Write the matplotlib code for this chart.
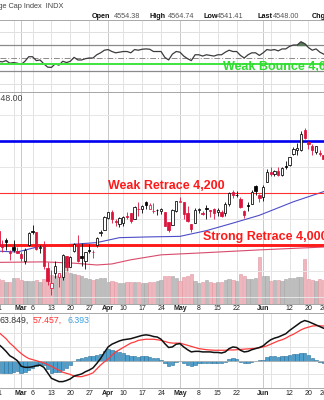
import numpy as np
import matplotlib
matplotlib.use('Agg')
import matplotlib.pyplot as plt
from matplotlib.transforms import blended_transform_factory

plt.rcParams['font.family'] = ['Liberation Sans', 'DejaVu Sans']

# ---- daily SPX, Feb 21 .. Jun 26 ----
opens = [4052, 4001, 4018, 3973, 3992, 3977, 3964, 3938, 3998, 4055,
         4048, 3987, 3998, 3912, 3835, 3894, 3876, 3878, 3958, 3917,
         3975, 4002, 3959, 3939, 3982, 3974, 3999, 4046, 4056, 4102,
         4128, 4094, 4082, 4085, 4111, 4122, 4100, 4140, 4137, 4164,
         4140, 4131, 4133, 4132, 4126, 4088, 4075, 4130, 4167, 4164,
         4122, 4082, 4085, 4136, 4124, 4143, 4133, 4139, 4127, 4128,
         4123, 4158, 4204, 4191, 4176, 4132, 4155, 4157, 4227, 4191,
         4184, 4242, 4282, 4271, 4286, 4268, 4305, 4308, 4350, 4366,
         4366, 4440, 4397, 4380, 4356, 4355, 4345]
highs = [4052, 4018, 4028, 3979, 4018, 3994, 3971, 3990, 4048, 4078,
         4050, 4000, 4017, 3934, 3905, 3937, 3894, 3964, 3959, 3956,
         4009, 4039, 4007, 3972, 4003, 3979, 4031, 4057, 4110, 4127,
         4134, 4100, 4108, 4110, 4125, 4124, 4150, 4164, 4152, 4169,
         4163, 4160, 4139, 4143, 4127, 4090, 4139, 4170, 4185, 4165,
         4149, 4082, 4143, 4143, 4131, 4154, 4133, 4143, 4141, 4136,
         4165, 4202, 4213, 4209, 4186, 4133, 4166, 4213, 4231, 4196,
         4232, 4291, 4299, 4289, 4300, 4299, 4322, 4340, 4376, 4391,
         4439, 4448, 4400, 4387, 4382, 4366, 4362]
lows = [3996, 3973, 3979, 3943, 3974, 3969, 3939, 3928, 3995, 4044,
        3980, 3970, 3908, 3846, 3808, 3874, 3838, 3864, 3901, 3916,
        3971, 3936, 3920, 3909, 3970, 3951, 3993, 4033, 4056, 4098,
        4086, 4071, 4069, 4072, 4100, 4086, 4100, 4113, 4124, 4140,
        4140, 4124, 4114, 4118, 4072, 4050, 4075, 4128, 4164, 4099,
        4087, 4049, 4085, 4124, 4116, 4099, 4109, 4099, 4110, 4109,
        4113, 4150, 4180, 4186, 4143, 4103, 4129, 4157, 4192, 4166,
        4170, 4242, 4266, 4264, 4264, 4266, 4291, 4304, 4345, 4347,
        4362, 4407, 4367, 4345, 4351, 4341, 4329]
closes = [3997, 3991, 4012, 3970, 3982, 3970, 3951, 3981, 4045, 4048,
          3986, 3992, 3918, 3861, 3855, 3919, 3892, 3960, 3917, 3952,
          4003, 3937, 3949, 3971, 3978, 3971, 4028, 4051, 4109, 4125,
          4101, 4090, 4105, 4109, 4108.9, 4092, 4146, 4138, 4151, 4155,
          4154.5, 4130, 4134, 4137, 4072, 4056, 4135, 4169, 4168, 4120,
          4091, 4061, 4136, 4138, 4119, 4138, 4131, 4124, 4136, 4110,
          4159, 4198, 4192, 4192.6, 4146, 4115, 4151, 4205.4, 4205.5, 4180,
          4221, 4282, 4274, 4284, 4268, 4294, 4299, 4339, 4369, 4373,
          4426, 4410, 4389, 4366, 4382, 4348, 4329]
prev_close = 4079

volume_b = [4.4, 4.1, 3.9, 3.8, 4.6, 4.6, 4.2, 4.0, 4.0, 4.0,
            4.1, 3.9, 4.3, 4.6, 5.0, 4.9, 5.0, 4.7, 8.2, 5.4,
            5.2, 5.1, 4.8, 4.5, 4.3, 4.2, 4.4, 4.5, 4.6, 3.9,
            4.0, 3.8, 3.7, 3.6, 3.8, 3.8, 3.9, 3.9, 3.6, 3.7,
            3.8, 3.9, 4.0, 4.1, 4.9, 4.9, 4.8, 4.6, 4.0, 4.7,
            4.9, 5.3, 4.0, 3.7, 3.8, 4.1, 3.8, 3.7, 3.8, 3.9,
            4.2, 4.3, 4.2, 4.0, 5.2, 4.9, 4.4, 4.3, 4.5, 8.2,
            4.9, 4.8, 4.0, 4.2, 4.1, 4.0, 4.3, 4.5, 4.6, 4.7,
            4.7, 7.8, 4.3, 4.2, 4.0, 4.3, 4.1]

rsi = [45, 44, 46, 42, 43, 42, 40, 45, 52, 52,
       46, 47, 41, 36, 35.5, 41, 39, 45, 43, 45,
       51, 47, 47, 49, 50, 50, 55, 58, 62, 63,
       60, 58, 59, 60, 60, 58, 63, 62, 63.5, 64,
       63.5, 60, 60, 60, 51, 47, 56, 60, 59, 53,
       49, 46, 55, 55, 53, 55, 54, 53, 55, 55,
       59, 62, 60, 60, 54, 50, 55, 58, 58, 54,
       58, 63, 62, 63, 61, 64, 64, 68, 70, 70,
       75, 72, 66, 62, 64, 59, 56]

macd = [30, 24, 17, 9, 5, 0, -10, -12, -12, -11,
        -9, -8, -12, -22, -32, -35, -38, -38, -36, -33,
        -28, -26, -24, -20, -17, -13, -5, 4, 15, 25,
        30, 33, 36, 38, 39, 40, 42, 44, 46, 47,
        46, 44, 43, 39, 31, 24, 25, 30, 31, 25,
        20, 16, 17, 17, 16, 16, 16, 15, 15, 14,
        16, 22, 25, 24, 19, 16, 17, 20, 22, 24,
        27, 33, 38, 41, 43, 46, 49, 55, 60, 65,
        70, 73, 71, 68, 65, 62, 59]
signal = [52, 46, 40, 32, 26, 19, 13, 8, 4, 2,
          0, -2, -4, -7, -10, -14, -17, -21, -23, -25,
          -28, -29, -29, -27, -25, -22, -15, -8, -2, 3,
          10, 16, 20, 24, 28, 32, 34, 37, 38, 39,
          39, 39, 38, 37, 35, 33, 32, 32, 32, 30,
          28, 26, 24, 22, 21, 20, 19.5, 19, 19, 19,
          19, 19.5, 19.5, 20, 20.5, 21, 21.5, 22, 22.5, 23.5,
          25, 27, 30, 33, 36, 38, 41, 45, 48, 52,
          56, 59, 61, 63, 63.5, 63.5, 63]

# moving averages, read at a handful of sessions
ma50_day = [0, 5, 11, 18, 26, 32, 40, 48, 55, 62, 69, 78, 86]
ma50 = [3976, 3973, 3995, 4001, 4009, 4028, 4031, 4033, 4055, 4084, 4114, 4166, 4205]
ma200_day = [0, 12, 20, 26, 30, 35, 43, 53, 69, 86]
ma200 = [3933, 3935, 3930, 3923, 3927, 3943, 3962, 3969, 3981, 3992]

tick_day = [0, 6, 9, 14, 19, 24, 29, 33, 38, 43, 48, 53, 58, 63, 70, 77, 82, 86]
tick_text = ['21', 'Mar', '6', '13', '20', '27', 'Apr', '10', '17', '24',
             'May', '8', '15', '22', 'Jun', '12', '20', '26']
grid_day = [4, 72]

RED = '#dc143c'
W, H = 324, 400

fig = plt.figure(figsize=(W / 100, H / 100), dpi=100)


def rect(top, bottom):
    return [0, 1 - bottom / H, 1, (bottom - top) / H]


ax_rsi = fig.add_axes(rect(20, 92))
ax_px = fig.add_axes(rect(92, 304))
ax_md = fig.add_axes(rect(313, 388))
ax_vol = ax_px.twinx()
ax_px.set_zorder(ax_vol.get_zorder() + 1)
ax_px.patch.set_visible(False)

x = np.arange(len(closes))
o, hi, lo, c = (np.array(v, float) for v in (opens, highs, lows, closes))
prev = np.r_[prev_close, c[:-1]]
down = c < prev

for a in (ax_rsi, ax_px, ax_md, ax_vol):
    a.set_xlim(0.4, 86.1)
    a.set_xticks([])
    a.set_yticks([])
    for s in ('left', 'right'):
        a.spines[s].set_visible(False)
    for s in ('top', 'bottom'):
        a.spines[s].set_color('#a8a8a8')
        a.spines[s].set_linewidth(0.7)

# weekly / monthly vertical grid
for a in (ax_rsi, ax_vol, ax_md):
    for d, t in zip(tick_day, tick_text):
        month = t.isalpha()
        a.axvline(d, color='#c9c9c9' if month else '#e3e3e3', lw=0.7, zorder=0)
    for d in grid_day:
        a.axvline(d, color='#e3e3e3', lw=0.7, zorder=0)

# ---- RSI panel ----
ax_rsi.set_ylim(-2.3, 108.5)
for lv in (90, 10):
    ax_rsi.axhline(lv, color='#e0e0e0', lw=0.7, zorder=1)
for lv in (70, 30):
    ax_rsi.axhline(lv, color='#8a8a8a', lw=0.9, zorder=1)
ax_rsi.axhline(50, color='#8a8a8a', lw=0.7, ls=(0, (6, 2, 1, 2)), zorder=1)
r = np.array(rsi, float)
ax_rsi.fill_between(x, r, 70, where=r > 70, interpolate=True, color='#5c7a5c', zorder=2)
ax_rsi.plot(x, r, color='#3c3c3c', lw=0.9, zorder=3)
ax_rsi.axhline(41.5, color='#3fe43f', lw=1.4, zorder=4)
ax_rsi.text(59.4, 36.9, 'Weak Bounce 4,600', color='#2fdc2f', fontsize=9,
            fontweight='bold', va='center', ha='left', zorder=5)

# ---- price panel ----
ax_px.set_ylim(3773, 4588)
for lv in range(3800, 4600, 100):
    ax_px.axhline(lv, color='#e6e6e6', lw=0.7, zorder=0)

ax_vol.set_ylim(0, 36.9)
ax_vol.bar(x, volume_b, width=0.86,
           color=np.where(down, '#efb6bd', '#bdbdbd'),
           edgecolor=np.where(down, '#e394a0', '#a7a7a7'), linewidth=0.4, zorder=1)

ax_px.plot(ma200_day, ma200, color='#d84a6a', lw=0.8, zorder=2)
ax_px.plot(ma50_day, ma50, color='#4d4dc8', lw=0.8, zorder=2)

ax_px.axhline(4400, color='#0000ee', lw=1.9, zorder=3)
ax_px.axhline(4200, color='#ff3030', lw=0.8, zorder=3)
ax_px.axhline(4000, color='#ff1a1a', lw=2.1, zorder=3)
ax_px.text(29.0, 4204, 'Weak Retrace 4,200', color='#ff1a1a', fontsize=9,
           fontweight='bold', va='bottom', ha='left', zorder=6)
ax_px.text(54.1, 4006, 'Strong Retrace 4,000', color='#ff1a1a', fontsize=9,
           fontweight='bold', va='bottom', ha='left', zorder=6)

col = np.where(down, RED, '#000000')
hollow = c >= o
ax_px.vlines(x, lo, hi, colors=col, lw=0.6, zorder=4)
body_lo = np.minimum(o, c)
body_h = np.maximum(np.abs(c - o), 1.5)
ax_px.bar(x, body_h, bottom=body_lo, width=0.62,
          color=np.where(hollow, 'white', col), edgecolor=col, linewidth=0.55, zorder=5)

# ---- MACD panel ----
ax_md.set_ylim(-49.6, 86.7)
for lv in (50, 25, -25):
    ax_md.axhline(lv, color='#e3e3e3', lw=0.7, zorder=0)
m = np.array(macd, float)
sg = np.array(signal, float)
ax_md.bar(x, m - sg, width=0.9, color='#4d9fce', edgecolor='#2b6f98', linewidth=0.4, zorder=1)
ax_md.axhline(0, color='#b5b5b5', lw=0.6, zorder=1)
ax_md.plot(x, sg, color='#ff3b3b', lw=0.9, zorder=2)
ax_md.plot(x, m, color='#111111', lw=1.1, zorder=3)

# ---- date labels ----
for a, ypix in ((ax_px, 309), (ax_md, 393.5)):
    tr = blended_transform_factory(a.transData, fig.transFigure)
    for d, t in zip(tick_day, tick_text):
        a.text(d, 1 - ypix / H, t, transform=tr, ha='center', va='center',
               fontsize=5, fontweight='bold' if t.isalpha() else 'normal',
               color='#222222', clip_on=False)

# ---- header and legends ----
def ftext(px, py, s, **kw):
    fig.text(px / W, 1 - py / H, s, va='center', **kw)


ftext(63, 7, 'S&P 500 Large Cap Index  INDX', ha='right', fontsize=5.3, color='#444444')
for px, s, bold in ((92, 'Open', True), (114, '4554.38', False), (150, 'High', True),
                    (168, '4564.74', False), (204, 'Low', True), (217, '4541.41', False),
                    (258, 'Last', True), (273, '4548.00', False), (312, 'Chg', True)):
    ftext(px, 16, s, ha='left', fontsize=5.2, color='#111111' if bold else '#555555',
          fontweight='bold' if bold else 'normal')
ftext(22, 99, '$SPX 4548.00', ha='right', fontsize=6.3, color='#444444')
ftext(0, 320.5, '63.849,', ha='left', fontsize=6.3, color='#333333')
ftext(33, 320.5, '57.457,', ha='left', fontsize=6.3, color='#ff3030')
ftext(67, 320.5, '6.393', ha='left', fontsize=6.3, color='#3aa0e0')

fig.savefig('out.png', dpi=100, facecolor='white')
